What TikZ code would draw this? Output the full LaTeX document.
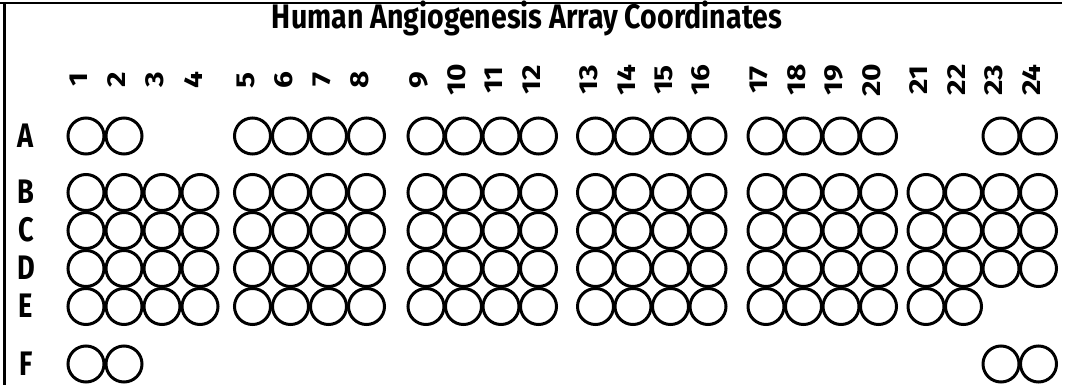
\documentclass[tikz,border=0pt]{standalone}
\usepackage{fontspec}
\setmainfont{Fira Sans}[Numbers=Lining]
\usepackage{graphicx}
\begin{document}
\begin{tikzpicture}[x=1pt,y=-1pt,
  well/.style={circle, draw=black, line width=3pt, minimum size=36pt, inner sep=0pt},
  rowlab/.style={font=\fontsize{34}{34}\selectfont\bfseries, anchor=base, inner sep=0pt},
  collab/.style={font=\fontsize{26}{26}\selectfont\bfseries, rotate=90, inner sep=0pt, anchor=center},
  frameline/.style={line width=2.5pt}]
\useasboundingbox (0,0) rectangle (1065,385);
% frame
\coordinate (tl) at (0,3);
\coordinate (tr) at (1061.5,3);
\coordinate (ll) at (4.5,3);
\coordinate (bl) at (4.5,385);
\draw[frameline] (tl) -- (tr);
\draw[frameline] (ll) -- (bl);
% title
\node[anchor=base, inner sep=0pt] (title) at (527,28.5)
  {\resizebox{510pt}{\height}{\fontsize{34}{34}\selectfont\bfseries Human Angiogenesis Array Coordinates}};
% column coordinates and labels
\foreach \c/\x in {1/86,2/124,3/162,4/200,5/252.5,6/290.5,7/328.5,8/366.5,9/426,10/463.5,11/501,12/538.5,13/595.5,14/633,15/670.5,16/708,17/766,18/803.5,19/841,20/878.5,21/926,22/963.5,23/1001,24/1038.5}{
  \coordinate (x\c) at (\x,0);
  \node[collab] (n\c) at (\x-7,80) {\scalebox{1.15}[1]{\c}};
}
% row coordinates and labels
\foreach \r/\y in {A/136,B/192.5,C/230.5,D/268.5,E/306.5,F/364}{
  \coordinate (r\r) at (0,\y);
  \node[rowlab] (L\r) at (26,\y+11) {\scalebox{0.8}[1]{\r}};
}
% wells
\foreach \c in {1,2,5,6,7,8,9,10,11,12,13,14,15,16,17,18,19,20,23,24}
  \node[well] (A-\c) at (x\c |- rA) {};
\foreach \r in {B,C,D}
  \foreach \c in {1,...,24}
    \node[well] (\r-\c) at (x\c |- r\r) {};
\foreach \c in {1,...,22}
  \node[well] (E-\c) at (x\c |- rE) {};
\foreach \c in {1,2,23,24}
  \node[well] (F-\c) at (x\c |- rF) {};
\end{tikzpicture}
\end{document}
